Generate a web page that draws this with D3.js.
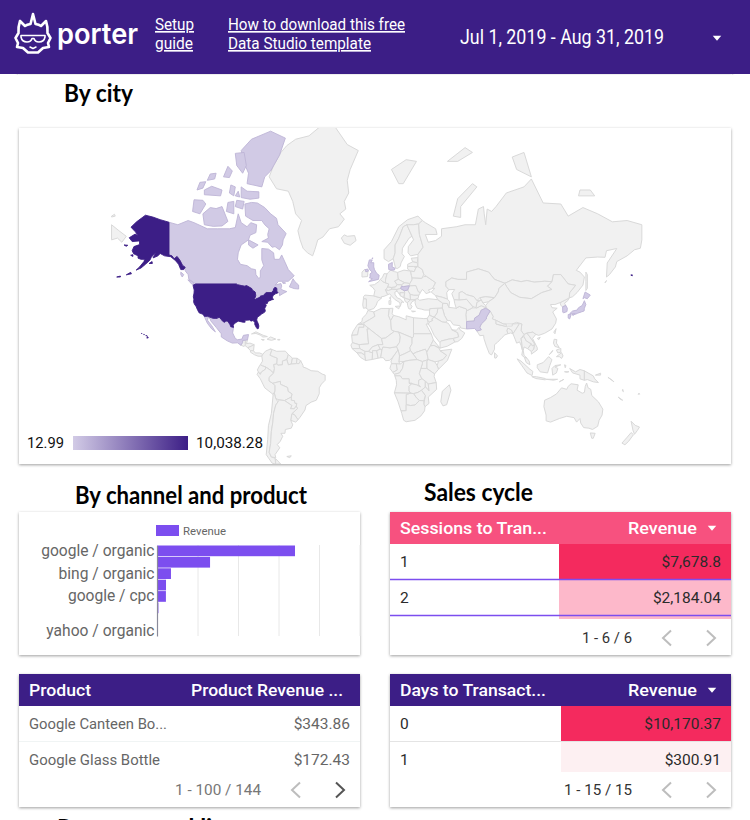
<!DOCTYPE html>
<html>
<head>
<meta charset="utf-8">
<script src="https://cdn.jsdelivr.net/npm/d3@7"></script>
<style>
  body { margin: 0; background: #fff; overflow: hidden; }
  svg { display: block; }
  text { font-family: Roboto, sans-serif; }
</style>
</head>
<body>
<div id="page"></div>
<script>
// ---- revenue by country (map) ----
const countryNames = ['United States', 'Canada', 'Mexico', 'United Kingdom', 'Denmark', 'Hungary', 'Pakistan', 'Japan', 'South Korea'];
const countryRevenue = [10038.28, 86, 42, 65, 14, 12.99, 38, 55, 21];
const legendMin = 12.99;
const legendMax = 10038.28;

// lon/lat outlines of the countries that have revenue
const unitedStates = [
  [[-124.7,48.4],[-123,49],[-95.2,49],[-94.6,48.7],[-92,48.3],[-89.5,48],[-88.4,48.3],[-84.8,46.9],[-84.5,46.4],[-83.5,45.8],[-82.5,45.3],[-82.1,43.6],[-82.5,42.6],[-83.1,42.1],[-82.5,41.7],[-79,42.8],[-79,43.3],[-76.8,43.6],[-76.3,44.2],[-75,45],[-71.5,45],[-70.3,45.9],[-70,46.7],[-69.2,47.45],[-68.3,47.3],[-67.8,47],[-67.8,45.7],[-67,44.9],[-68.8,44.4],[-70.2,43.7],[-70.8,42.8],[-70.6,41.9],[-69.95,41.7],[-71.4,41.4],[-73.9,40.6],[-74.2,39.6],[-75.5,39.4],[-75,38.4],[-76,37],[-75.6,35.3],[-76.5,34.6],[-78,33.9],[-79.3,33],[-81,32],[-81.4,30.7],[-81.3,29.8],[-80.5,28.4],[-80,26.8],[-80.3,25.3],[-81.1,25.1],[-81.8,26],[-82.8,27.8],[-82.7,28.8],[-83.7,29.9],[-84.5,30],[-85.3,29.7],[-86.3,30.4],[-88,30.3],[-89.6,30.2],[-89.3,29.1],[-90.8,29.1],[-93.8,29.7],[-94.8,29.3],[-96.5,28.3],[-97.4,27.3],[-97.2,25.95],[-99.1,26.4],[-99.5,27.5],[-100.7,29.1],[-101.4,29.8],[-102.7,29.7],[-103.2,29],[-104.5,29.6],[-106.5,31.75],[-108.2,31.78],[-108.2,31.33],[-111,31.33],[-114.8,32.5],[-117.1,32.5],[-117.3,33],[-118.4,33.8],[-120.6,34.5],[-121.9,36.6],[-122.5,37.8],[-123.8,39.3],[-124.3,40.4],[-124.1,41.8],[-124.5,42.9],[-124,44.8],[-123.9,46.2]],
  [[-141,69.6],[-141,60.3],[-139,60],[-137.5,59],[-135.5,59.8],[-133.5,58.4],[-131.8,56.6],[-130,55.9],[-131,55],[-133,55],[-134.5,57],[-136.5,58.3],[-139.8,59.7],[-144,60],[-147,60.8],[-148.5,60],[-151.8,59.3],[-150,61.2],[-153,59.5],[-154,58.5],[-157,57],[-160,55.6],[-163.3,54.8],[-161,56],[-158,58],[-157.5,58.8],[-160,58.8],[-162,59.2],[-162,60],[-165,60.7],[-166,61.7],[-164.8,63],[-161,63.6],[-161,64.7],[-166,64.5],[-168,65.6],[-164,66.6],[-162,66.2],[-163.8,67.2],[-166.8,68.4],[-163,69.7],[-157,71.2],[-152,70.8],[-147,70.2]],
  [[-154.5,57.3],[-152.5,58],[-152.3,57.3]],
  [[-167,60.2],[-165.5,60.4],[-165.5,59.8]],
  [[-171.5,63.5],[-169,63.4],[-170,63.1]],
  [[-170,52.9],[-167,53.9],[-166.5,53.3]],
  [[-176.5,52],[-174,52.4],[-174,52]],
  [[172.5,52.8],[173.5,52.9],[173.5,52.5]],
  [[-156,19.2],[-155,19.6],[-155.7,20.2]],
  [[-156.7,20.9],[-156,20.8],[-156.3,20.5]],
  [[-158.2,21.6],[-157.7,21.5],[-158,21.3]],
  [[-159.7,22.2],[-159.3,22.1],[-159.5,21.9]]
];
const canada = [
  [[-141,69.6],[-135,69],[-128,70],[-124,69.5],[-115,68],[-108,68],[-100,68],[-96,68.3],[-94,71.5],[-92,69.5],[-88,68.5],[-85.5,69.5],[-81.5,69],[-82,67],[-86,66.3],[-87,65],[-92,63.5],[-94,61],[-94.5,58.8],[-92.5,57],[-88,56.5],[-85,55.3],[-82.3,55],[-82,53],[-80,51.3],[-79,52],[-79,54.5],[-76.7,56.5],[-78,58.6],[-78,62.4],[-73.5,62.2],[-70,61],[-69.5,58.8],[-66,58.8],[-64.5,60.3],[-62,57.5],[-60,55],[-56,52.5],[-60,50.2],[-66.5,50.2],[-69,48.5],[-65,49.2],[-64.5,48],[-65,47],[-64,46.2],[-61,45.5],[-63.5,44.6],[-66,43.5],[-66,45],[-67,44.9],[-67.8,45.7],[-67.8,47],[-68.3,47.3],[-69.2,47.45],[-70,46.7],[-70.3,45.9],[-71.5,45],[-75,45],[-76.3,44.2],[-76.8,43.6],[-79,43.3],[-79,42.8],[-82.5,41.7],[-83.1,42.1],[-82.5,42.6],[-82.1,43.6],[-82.5,45.3],[-83.5,45.8],[-84.5,46.4],[-84.8,46.9],[-88.4,48.3],[-89.5,48],[-92,48.3],[-94.6,48.7],[-95.2,49],[-123,49],[-125,50],[-127.5,51],[-128,53],[-130,54.5],[-130,55.9],[-131.8,56.6],[-133.5,58.4],[-135.5,59.8],[-137.5,59],[-139,60],[-141,60.3]],
  [[-123.5,48.4],[-125.5,48.9],[-128.2,50.8],[-125,50]],
  [[-132,52],[-131,53],[-133,54],[-133,53]],
  [[-59.3,47.7],[-56,46.9],[-53,46.7],[-53,48.5],[-55.5,50],[-56.8,51.3],[-58,49.5]],
  [[-61.5,66.7],[-63.5,65],[-64,63.5],[-66,62],[-69,63],[-71,62.8],[-74,64.3],[-78,64.5],[-73.5,65.5],[-74,66.5],[-73,68],[-76,69],[-78,70],[-84,70],[-89,71],[-89.5,73.5],[-85,73.8],[-81,73.7],[-76,72.8],[-72,71.5],[-68,70.5],[-67,69],[-62,67]],
  [[-117,69],[-111,68.6],[-105,68.7],[-101,69.8],[-105,73],[-109,72.6],[-113,72.8],[-118,71.5]],
  [[-125,72],[-120,71.5],[-116,73.5],[-118,74.2],[-124,74.3]],
  [[-62,82.4],[-72,83],[-85,82.3],[-92,81.2],[-90,79.8],[-87,78.5],[-88,77],[-78,76.5],[-76,78],[-72,78.8],[-66,80.7]],
  [[-92,74.7],[-86,74.4],[-80,74.6],[-80,75.7],[-88,75.8],[-92,76.5]],
  [[-96,80.9],[-90,81],[-88.5,79.5],[-91,78.5],[-95,79.5]],
  [[-117,75.2],[-106,75],[-105,76],[-112,76.6],[-117,76]],
  [[-122,76],[-118,76.3],[-116,77.3],[-120,77.2]],
  [[-115,77.5],[-110,77.7],[-109,78.5],[-113,78.4]],
  [[-104,78],[-100,77.9],[-98,78.8],[-101,79.4]],
  [[-100,75.5],[-97,75],[-96,76.5],[-99,76.8]],
  [[-96,75],[-93,74.8],[-94,75.8]],
  [[-96,73],[-91,72.5],[-90,74],[-95,74.2]],
  [[-102,72],[-97,71.5],[-97,74],[-101,73.8]],
  [[-87,65],[-80.5,63.5],[-84,62.5],[-87,63.5]],
  [[-64,49.9],[-61.8,49.4],[-63.5,49.2]]
];
const mexico = [
  [[-117.1,32.5],[-114.8,32.5],[-111,31.33],[-108.2,31.33],[-108.2,31.78],[-106.5,31.75],[-104.5,29.6],[-103.2,29],[-102.7,29.7],[-101.4,29.8],[-100.7,29.1],[-99.5,27.5],[-99.1,26.4],[-97.2,25.95],[-97.8,22.5],[-96,19],[-94.5,18.2],[-91.5,18.6],[-90.5,21],[-87,21.5],[-87.7,18.2],[-89.1,17.9],[-91,17.8],[-91,16.5],[-92.2,14.6],[-94.5,16.2],[-98,16],[-101.5,17.5],[-105.5,20],[-105.5,22],[-109,26],[-112.8,30],[-113,31.2],[-114.8,31.8],[-114.7,30],[-112,27],[-109.5,23.2],[-112,25],[-115,28.5]]
];
const unitedKingdom = [
  [[-5.5,50],[1.2,51],[1.7,52.7],[0,53.5],[-1.5,55],[-2,56],[-2,57.6],[-4,57.6],[-3,58.6],[-5,58.6],[-6,56.5],[-4.8,55],[-3,54],[-4.5,53.3],[-4.5,52],[-5,51.7],[-3,51.3]],
  [[-7.8,55],[-6,55.2],[-5.6,54.4],[-7.5,54.2]],
  [[-3.2,59.2],[-2.6,59.3],[-2.9,58.9]]
];
const denmark = [[[8.2,55],[8,57],[10.6,57.7],[10.5,56],[12.5,55.5],[12,54.8],[9.5,54.8]]];
const hungary = [[[16.2,46.9],[17,48],[18,47.8],[22.2,48.2],[21,46.2],[18.8,45.9]]];
const pakistan = [[[61,25],[61,29.5],[66.2,29.8],[66.5,31.5],[69.5,33.1],[71,36],[74,37],[77,35.5],[74.5,32],[74.5,31],[71,28],[70,26],[71,24.5],[68,23.7],[66.5,25.3]]];
const japan = [
  [[131,34],[133,35.5],[136,36],[137,37.3],[139.5,38.5],[141,41],[142,39],[141,37],[140.8,35.5],[139,35],[136.5,34.3],[135,33.7],[132.5,34]],
  [[140,42],[141.5,45.3],[145,43.8],[143,42],[141,42.5]],
  [[130,33.5],[132,33.5],[131,31],[130,31.5]],
  [[132.5,33.5],[134.7,34],[133.5,33]]
];
const southKorea = [[[126.2,37.8],[128.4,38.5],[129.4,37],[129.2,35.2],[127,34.5],[126.3,34.8]]];
const countryRings = [unitedStates, canada, mexico, unitedKingdom, denmark, hungary, pakistan, japan, southKorea];

// lon/lat outlines of the rest of the world, no revenue
const restOfAmericas = [
  [[-92.2,14.6],[-91,16.5],[-91,17.8],[-89.1,17.9],[-89.2,15.9],[-88.3,15.7],[-90,13.8]],
  [[-89.1,17.9],[-87.7,18.2],[-88.3,15.9],[-89.2,15.9]],
  [[-89.2,15.9],[-88.3,15.7],[-86,16],[-83.2,15],[-85,14],[-87.5,13],[-89.3,14.3]],
  [[-83.2,15],[-83.6,11],[-85.7,11],[-87.5,13],[-85,14]],
  [[-83.6,11],[-82.5,9.5],[-79.5,9.5],[-77.3,8.6],[-78,7.3],[-80.5,7.3],[-83,8.3],[-85.7,10],[-85.7,11]],
  [[-85,21.9],[-82,23.2],[-77,21],[-74.2,20.2],[-77.5,19.9],[-78.5,21],[-82,22.2]],
  [[-74.4,18.5],[-72,20],[-68.5,18.6],[-71.5,17.8]],
  [[-78.3,18.4],[-76.3,18.2],[-77.2,17.8]],
  [[-67.2,18.4],[-65.7,18.4],[-65.7,18],[-67.2,18]],
  [[-77.3,8.6],[-75.5,10.7],[-72,12.2],[-71.3,11],[-72.4,8],[-70,7],[-67.5,6],[-67.8,2],[-69.9,1.7],[-69.4,-1],[-70,-4.2],[-72,-2.3],[-75.3,0],[-77.7,0.8],[-79,1.6],[-77.5,4],[-78,7.3]],
  [[-72,12.2],[-68,10.6],[-62,10.7],[-60,8.5],[-61,5],[-64,4],[-64,1.5],[-67,1.2],[-67.8,2],[-67.5,6],[-70,7],[-72.4,8],[-71.3,11]],
  [[-60,8.5],[-57.2,6],[-58,2],[-60,1.5],[-61,5]],
  [[-57.2,6],[-54,5.9],[-54.5,2.3],[-58,2]],
  [[-54,5.9],[-51.6,4.2],[-52.7,2.3],[-54.5,2.3]],
  [[-79,1.6],[-77.7,0.8],[-75.3,0],[-75.5,-1.5],[-78.3,-3.4],[-79,-5],[-80.3,-3.4],[-81,-2],[-80,0]],
  [[-80.3,-3.4],[-79,-5],[-78.3,-3.4],[-75.5,-1.5],[-75.3,0],[-72,-2.3],[-70,-4.2],[-73,-7],[-73,-9.5],[-70.5,-11],[-69,-12.5],[-69,-16],[-70.3,-18.3],[-76,-14],[-79,-8],[-81.2,-5]],
  [[-61,5],[-60,1.5],[-58,2],[-54.5,2.3],[-52.7,2.3],[-51.6,4.2],[-50,1],[-50,0],[-48,-0.7],[-44.5,-2.5],[-40,-2.9],[-37,-4.8],[-35,-5.5],[-35,-9],[-37.5,-11.5],[-39,-14],[-39,-17.8],[-41,-22],[-44.5,-23.2],[-48,-25.3],[-48.7,-28],[-52,-32.2],[-53.4,-33.7],[-55.8,-30.8],[-57.6,-30.2],[-53.8,-27.2],[-54.6,-25.6],[-54.3,-24],[-55.5,-24],[-55.9,-22.3],[-58,-22],[-58,-20],[-57.5,-18],[-60.2,-16.3],[-60.5,-13.8],[-65.3,-11.7],[-65.4,-9.7],[-70.5,-11],[-73,-9.5],[-73,-7],[-70,-4.2],[-69.4,-1],[-69.9,1.7],[-67.8,2],[-67,1.2],[-64,1.5],[-64,4]],
  [[-69,-12.5],[-70.5,-11],[-65.4,-9.7],[-65.3,-11.7],[-60.5,-13.8],[-60.2,-16.3],[-57.5,-18],[-58,-20],[-62.6,-22.2],[-66.2,-21.8],[-68.5,-21],[-69.5,-17.5],[-69,-16]],
  [[-58,-20],[-58,-22],[-55.9,-22.3],[-55.5,-24],[-54.3,-24],[-54.6,-25.6],[-56,-27.3],[-58.6,-27.2],[-57.6,-25.3],[-62.6,-22.2]],
  [[-57.6,-30.2],[-55.8,-30.8],[-53.4,-33.7],[-55,-35],[-58.4,-34]],
  [[-70.3,-18.3],[-69.5,-17.5],[-68.5,-21],[-67,-23],[-68.5,-25],[-70,-30],[-70.5,-35],[-71.5,-40],[-72,-46],[-73,-50],[-71.5,-52],[-69,-52.5],[-68.6,-54.9],[-71,-54.5],[-75,-51],[-74,-44],[-73.5,-37],[-71.5,-30]],
  [[-66.2,-21.8],[-62.6,-22.2],[-57.6,-25.3],[-58.6,-27.2],[-56,-27.3],[-54.6,-25.6],[-53.8,-27.2],[-57.6,-30.2],[-58.4,-34],[-57,-36.5],[-58,-38.3],[-62,-39],[-62.3,-41],[-65,-41],[-63.8,-42.5],[-65.5,-45],[-67.5,-46.5],[-65.8,-48],[-69,-51],[-68.5,-52.3],[-71.5,-52],[-73,-50],[-72,-46],[-71.5,-40],[-70.5,-35],[-70,-30],[-68.5,-25],[-67,-23]],
  [[-68.6,-52.7],[-65.2,-54.8],[-68.6,-54.9]],
  [[-61,-51.8],[-58,-51.5],[-59,-52.3]],
  [[-73,78],[-68,76.2],[-60,75.8],[-57,74],[-55,71.5],[-51,70],[-53.5,67.5],[-52,65],[-50,62.5],[-47,61],[-43.5,60],[-42,62],[-40,65],[-36.5,65.8],[-32,68],[-26,68.5],[-22,70.3],[-25,71.5],[-21,72.5],[-22,74],[-19,75.5],[-20,77.5],[-18,79],[-12.5,81.2],[-20,81.8],[-28,83.3],[-37,83.5],[-46,82.6],[-55,82.3],[-61,81.7],[-65,81],[-70,79.5]]
];
const restOfEurope = [
  [[-24,65.5],[-22,64],[-18,63.4],[-14,64.8],[-15,66.2],[-20,66],[-22,66.4]],
  [[-10,52],[-6.2,52.2],[-6,54],[-7.5,54.2],[-5.6,54.4],[-7.8,55],[-8,55.2],[-10,54]],
  [[-9,43],[-8,43.8],[-2,43.4],[3.2,42.3],[0.5,40.5],[-0.3,38.7],[-2,36.8],[-5.4,36],[-7.4,37.2],[-7,38],[-7,41.8],[-9,42]],
  [[-9,42],[-7,41.8],[-7,38],[-7.4,37.2],[-9,37],[-9.5,38.8]],
  [[-4.7,48.4],[-1.5,48.7],[1.5,50.1],[2.5,51],[4.2,50],[6,49.5],[8.2,49],[7.5,47.6],[6,46.3],[7.5,44],[5,43.2],[3.2,43],[3.2,42.3],[-2,43.4],[-1.2,46],[-2.5,47.3]],
  [[2.5,51],[4,52],[5,53.4],[7,53.3],[6,50.8],[6,49.5],[4.2,50]],
  [[7,53.3],[8.2,54],[9.5,54.8],[12,54.2],[14.2,53.9],[14.7,51],[12.2,50.3],[13.8,48.7],[12.8,47.6],[10,47.4],[7.5,47.6],[8.2,49],[6,49.5],[6,50.8]],
  [[6,46.3],[7.5,47.6],[10,47.4],[10.4,46.6],[8,46]],
  [[10,47.4],[12.8,47.6],[13.8,48.7],[17,48.7],[16.2,46.9],[13.7,46.5],[10.4,46.6]],
  [[7.5,44],[6,46.3],[8,46],[10.4,46.6],[13.7,46.5],[13.7,45.7],[12.3,45.2],[12.5,44],[14,42.4],[16,41.8],[18.4,40.1],[17,40.4],[16.6,39.5],[16,38],[15.7,40],[12.5,41.5],[10.5,43],[8.8,44.4]],
  [[12.5,38],[15.6,38.2],[15,36.7]],
  [[8.3,41],[9.7,41],[9.5,39],[8.4,39]],
  [[8.7,42.5],[9.5,43],[9.4,41.5]],
  [[14.2,53.9],[18.5,54.8],[23,54.4],[23.6,52.6],[24,51.6],[24,50.8],[22.5,49.2],[19,49.5],[14.7,51]],
  [[12.2,50.3],[14.7,51],[19,49.5],[17,48.7],[13.8,48.7]],
  [[17,48.7],[19,49.5],[22.5,49.2],[22.2,48.2],[18,47.8],[17,48]],
  [[21,46.2],[22.2,48.2],[26.6,48.3],[28.2,45.5],[29.6,45],[28.6,43.7],[25,43.7],[22.6,44.2]],
  [[22.6,44.2],[25,43.7],[28.6,43.7],[28,42],[26,41.4],[22.9,41.4]],
  [[13.7,45.7],[13.7,46.5],[16.2,46.9],[18.8,45.9],[19,44.9],[15.8,45],[16,43.5],[18.5,42.5],[15,44.5],[14.5,45.2]],
  [[15.8,45],[19,44.9],[18.5,42.5],[16,43.5]],
  [[18.8,45.9],[21,46.2],[22.6,44.2],[22.9,41.4],[20.5,41.9],[18.5,42.5],[19,44.9]],
  [[18.5,42.5],[20.5,41.9],[22.9,41.4],[20.8,40],[19.4,40.5]],
  [[20.8,40],[22.9,41.4],[26,41.4],[23.7,40.2],[23,39],[24,38],[23,36.5],[21.7,36.8],[21,38.5]],
  [[23.6,35.5],[26.3,35.3],[24.5,35]],
  [[5,59],[5,62],[10,64.5],[15,68.5],[21,70.2],[28,71],[31,70],[28.5,69.2],[25,69],[20.5,69],[18,68.5],[15,65.5],[12.5,63.5],[12.5,61],[11.2,59],[8,58]],
  [[11.2,59],[12.5,61],[12.5,63.5],[15,65.5],[18,68.5],[20.5,69],[24,66],[22,65.5],[17.5,62.5],[17.2,60.7],[18.8,59.8],[16.5,57.5],[16,56.2],[14,55.4],[12.8,55.6]],
  [[20.5,69],[25,69],[28.5,69.2],[29,66.5],[31.5,62.8],[28,60.5],[23,60],[21.3,61],[21.5,63],[25,65],[24,66]],
  [[23.5,59.2],[28,59.4],[27.5,57.6],[24.4,57.9]],
  [[21,56.2],[21,57],[24.4,57.9],[27.5,57.6],[28,56.2],[25,56.2]],
  [[21,55.2],[21,56.2],[25,56.2],[26.6,55.7],[25.5,54.2],[23,54.4]],
  [[23,54.4],[25.5,54.2],[26.6,55.7],[28,56.2],[31,55],[32,53],[30.5,51.4],[24,51.6],[23.6,52.6]],
  [[22.2,48.2],[22.5,49.2],[24,50.8],[24,51.6],[30.5,51.4],[32,52.2],[34,52.2],[40,49.6],[38,47],[35,46.2],[36.5,45.3],[33.5,44.5],[32.5,45.5],[31,46.5],[29.6,45],[28.2,45.5],[26.6,48.3]],
  [[10,79],[20,80.2],[27,80],[18,77],[15,77]]
];
const restOfAsia = [
  [[28,59.4],[28,56.2],[31,55],[32,53],[34,52.2],[40,49.6],[38,47],[39.5,47],[37,45.3],[40,43.5],[44.5,42.7],[48,41.8],[47.5,45],[49,46.4],[47,48],[47,50],[51,51.6],[55,51],[61,51],[61,54],[69,55.3],[76,54],[80,51],[87,49.3],[92,50.8],[98,50],[102,50.5],[107,49.8],[114,50.2],[119,50],[120,53],[125,53],[130,49],[135,48.4],[131,45],[130.7,42.4],[133,43],[136,45],[140,48.5],[141,52],[138,54],[135.5,54.7],[142,59.3],[150,59.6],[155,59.5],[156,61.7],[163,62.4],[156.5,57.5],[156,52],[158,53],[162,56],[163,58],[170,60],[175,62],[179,62.5],[180,65],[180,69],[170,70],[160,69.7],[150,71.5],[140,72.8],[130,71],[125,73.5],[113,73.7],[105,77.7],[100,76.5],[88,75.5],[81,73],[78,72],[75,72.5],[74,69],[73,71.5],[72.5,73],[69,72.5],[67,69],[60,69],[54,68.5],[44,68],[44,66],[40,64.8],[35,64.3],[33,66.5],[41,66.5],[40,68],[33,69.5],[31,70],[28.5,69.2],[29,66.5],[31.5,62.8],[28,60.5]],
  [[-180,65],[-176,65.5],[-173,64.3],[-170,66],[-175,67.5],[-180,69]],
  [[-180,71],[-178,71.4],[-177.5,71],[-180,70.8]],
  [[52,71],[57,70.7],[57,73],[68,76.5],[65,77],[55,74.5]],
  [[48,80],[60,81.5],[65,81],[55,80]],
  [[95,79],[105,78],[100,81],[92,80.5]],
  [[137,75],[148,75],[145,76],[138,76]],
  [[142,54],[143,53],[143,47],[142,46],[142,50]],
  [[156,50.5],[155.5,50],[155,49.5]],
  [[124.5,40],[128.4,41.5],[130.7,42.4],[129.7,41],[127.5,39.7],[128.4,38.5],[126.2,37.8],[125,38.5]],
  [[61,29.5],[60.5,33.5],[61,35.6],[65,37.2],[68,37.2],[71,38.4],[74.5,37.2],[71,36],[69.5,33.1],[66.5,31.5],[66.2,29.8]],
  [[44.8,39.7],[48,39.5],[49,37.5],[54,37],[56,38],[61,36.6],[61,35.6],[60.5,33.5],[61,29.5],[61,25],[57,25.6],[56.5,27],[52,27.5],[50,30],[48,30],[46,33],[45,36],[44.5,37.2]],
  [[44.5,37.2],[45,36],[46,33],[48,30],[46.5,29],[44.5,29.2],[39,32],[41,34.5],[41.5,37]],
  [[36,36.8],[41.5,37],[41,34.5],[39,32],[36,33],[35.8,35]],
  [[35,29.5],[34.3,31.3],[35.8,33.3],[36,33],[39,32],[37.5,31],[38,30],[36,29.3]],
  [[35,28],[36,29.3],[38,30],[37.5,31],[39,32],[44.5,29.2],[46.5,29],[48.5,28.5],[50,26.5],[51,24.5],[55,22.7],[55.7,20],[52,19],[49,18.6],[44,17.4],[43,16.5],[42.7,16.5],[39,21],[36.5,26]],
  [[43,12.7],[43,16.5],[44,17.4],[49,18.6],[52,19],[53,16.7],[48,14]],
  [[51,24.5],[54,24.2],[56,26],[56.5,24.5],[59.8,22.5],[57.7,19],[55,17],[53,16.7],[52,19],[55.7,20],[55,22.7]],
  [[26,40],[26.3,41.8],[28,42],[29,41.2],[35,42],[41.5,41.5],[44.8,39.7],[44.5,37.2],[36,36.8],[36,36],[32.5,36],[30.5,36.5],[27.5,37],[26.5,38.5]],
  [[40,43.5],[44.5,42.7],[48,41.8],[49.5,40.5],[49,37.5],[48,39.5],[44.8,39.7],[41.5,41.5]],
  [[47,48],[47,50],[51,51.6],[55,51],[61,51],[61,54],[69,55.3],[76,54],[80,51],[87,49.3],[83,47],[82.5,45.3],[80,42.5],[74,43],[70,42.5],[68,41],[66,43],[61,44],[58,45.5],[56,45],[56,41.3],[52.5,41.5],[51,44.5],[53,46.5],[49,46.4]],
  [[56,41.3],[56,45],[58,45.5],[61,44],[66,43],[68,41],[71,41.4],[68,40],[67.5,37.3],[65,38],[61,41.7]],
  [[52.5,41.5],[56,41.3],[61,41.7],[65,38],[65,37.2],[61,35.6],[61,36.6],[56,38],[54,37],[53,39.5]],
  [[71,41.4],[70,42.5],[74,43],[80,42.5],[76,40.5],[72,39.8]],
  [[68,40],[71,41.4],[72,39.8],[74,38.5],[74.5,37.2],[71,38.4],[68,37.2],[67.5,37.3]],
  [[87,49.3],[92,50.8],[98,50],[102,50.5],[107,49.8],[114,50.2],[119,50],[116,48],[119,46.5],[112,45],[105,42],[97,42.7],[91,45],[88,48]],
  [[74,38.5],[76,40.5],[80,42.5],[82.5,45.3],[83,47],[87,49.3],[88,48],[91,45],[97,42.7],[105,42],[112,45],[119,46.5],[116,48],[119,50],[120,53],[125,53],[130,49],[135,48.4],[131,45],[130.7,42.4],[128.4,41.5],[124.5,40],[121,39],[118,39],[119,37.3],[122.5,37],[119.5,35],[122,31],[121.5,28.5],[119,25],[114,22.3],[110,21],[108,21.6],[106,23],[102,22.4],[100,21.5],[98,24],[98.5,28],[95,29],[92,28],[89,28],[86,28],[81,30.2],[78.5,31],[79,32.5],[77,35.5],[74.5,37.2]],
  [[109,19],[111,19.8],[110,18.2]],
  [[120.2,23],[121.8,25.2],[121,22]],
  [[68,23.7],[71,24.5],[70,26],[71,28],[74.5,31],[74.5,32],[77,35.5],[79,32.5],[78.5,31],[81,30.2],[81,28],[88,26.5],[89,26.8],[92,26.8],[92,28],[97,28.3],[94,24],[92.5,22],[91.5,24.3],[89,25.5],[88.5,24],[89,22],[87,21.3],[85,19.5],[82,16.5],[80,15],[80,12],[78,8.2],[76.5,9],[74.5,14],[72.8,19],[72.6,21],[70,20.8],[69,22.3]],
  [[81,30.2],[86,28],[88,27.8],[88,26.5],[81,28]],
  [[88.5,24],[89,25.5],[91.5,24.3],[92.5,22],[91,22.5],[89,22]],
  [[80,9.7],[82,7.5],[81,6],[80,6.2]],
  [[92.5,22],[94,24],[97,28.3],[98.5,28],[98,24],[100,21.5],[98,19],[98.5,16],[99,11],[98,14.5],[97,16.8],[95,16],[94,18.5]],
  [[98,19],[100,20.3],[101.5,17.5],[105,15.5],[102.5,12.3],[100,13.5],[99.5,11],[100,8],[102,6],[100.3,6.5],[98.5,8],[99,11],[98.5,16]],
  [[100,21.5],[102,22.4],[104,20],[107,16],[107,14.5],[105.5,14.2],[105,15.5],[101.5,17.5],[100,20.3]],
  [[102,22.4],[106,23],[108,21.6],[105.8,19],[109,13],[109,11.5],[105,8.7],[105,10.5],[106.5,12],[107,14.5],[107,16],[104,20]],
  [[102.5,12.3],[105,15.5],[105.5,14.2],[107,14.5],[106.5,12],[105,10.5]],
  [[100.3,6.5],[102,6],[103.5,4],[104,1.5],[101.5,3]],
  [[95.3,5.5],[98,4],[104,-1.5],[106,-3],[105.5,-5.8],[102,-4],[98.5,1]],
  [[105.3,-6.5],[108.5,-6.6],[114.5,-7.8],[114.5,-8.7],[108,-7.8]],
  [[109,1.5],[113,3],[116.7,7],[119,5],[117.5,1],[116,-4],[111,-3.3],[109,-0.5]],
  [[119.5,-5.5],[119,-1],[121,1],[125,1.5],[121,0],[123,-1],[122,-4]],
  [[131,-1],[135,-3.3],[138,-1.7],[141,-2.6],[141,-9],[138,-8],[138,-5.5],[133,-4]],
  [[141,-2.6],[147,-6],[148,-8],[150.5,-10.5],[147,-10],[143,-8.5],[141,-9]],
  [[148.5,-5.5],[152,-4.2],[152,-5.5]],
  [[124,-10],[127,-8.4],[125,-9.4]],
  [[115,-8.3],[119,-8.3],[122.8,-8.3],[120,-8.9]],
  [[127.5,1.5],[128.5,1],[128,-0.5]],
  [[127.5,-3.2],[130.5,-3.2],[129,-3.6]],
  [[120.5,18.5],[122.3,18.3],[122,16],[124,13],[121,13.8],[120,16]],
  [[122,7],[125.5,9.7],[126.5,7.5],[125.5,5.8],[124,7]],
  [[122,11.5],[125,12.5],[125,10],[123,9.5]],
  [[117.2,8.4],[119.5,11.2],[119,10]]
];
const oceania = [
  [[114,-22],[113.5,-26],[115,-31],[115,-34.3],[118,-35],[124,-33],[129,-31.7],[134,-32.5],[135.7,-35],[138,-33],[138.5,-35.5],[140.5,-38],[144,-38.3],[146.5,-39],[150,-37.3],[151,-34],[153,-31],[153.5,-27.5],[150.5,-23],[146,-19],[145.3,-15],[143.5,-14],[142.5,-10.8],[141.6,-13],[141,-17],[139.5,-17.5],[136,-15.5],[136.8,-12],[132,-11.3],[130,-13],[129,-15],[125.5,-14],[122,-18],[118,-20.3]],
  [[145,-40.8],[148.3,-41],[147,-43.5],[146,-43.5]],
  [[172.7,-34.5],[175.5,-36.8],[178.4,-37.7],[177,-39.5],[175,-41.5],[174,-39.5]],
  [[172.7,-40.6],[174.3,-41.7],[171,-45],[168.5,-46.6],[166.5,-45.8],[170,-43]],
  [[157,-7],[160,-9],[161,-10]],
  [[164,-20],[167,-22],[165.5,-21.5]],
  [[178,-17.5],[178.6,-18.1],[177.5,-18.2]],
  [[167,-15],[167.5,-16.5],[166.8,-16]]
];
const africa = [
  [[-6,35.8],[-2,35],[-1.2,32.5],[-5,30.5],[-8.7,28.7],[-13,27.7],[-10,29.5],[-9.7,31.5],[-7,33.7]],
  [[-13,27.7],[-8.7,27.7],[-8.7,26],[-12,26],[-13,21.3],[-17,21],[-16,23.5]],
  [[-2,35],[3,36.9],[8.6,36.9],[8,33],[9.5,30],[10,24.5],[12,23.5],[6,19.3],[3.3,19],[-5,25],[-8.7,27.7],[-8.7,28.7],[-5,30.5],[-1.2,32.5]],
  [[8.6,36.9],[11,37],[10.5,34],[11.5,33],[9.5,30],[8,33]],
  [[11.5,33],[15,32.3],[20,30.5],[20,32.8],[25,31.7],[25,20],[24,19.5],[15,23],[12,23.5],[10,24.5],[9.5,30]],
  [[25,31.7],[32,31.2],[34.3,31.3],[35,28],[33.5,28],[37,22],[25,22]],
  [[-17,21],[-13,21.3],[-12,26],[-8.7,26],[-8.7,27.7],[-5,25],[-6.5,25],[-5.5,15.5],[-12,15],[-16.5,16.3]],
  [[-12,15],[-5.5,15.5],[-6.5,25],[-5,25],[3.3,19],[4.2,15],[1,15],[-3,13.5],[-5.5,10.5],[-8,10.5],[-11.5,12.4]],
  [[-16.5,16.3],[-12,15],[-11.5,12.4],[-16.7,12.4],[-17.5,14.7]],
  [[-16.7,12.4],[-11.5,12.4],[-8,10.5],[-8,8],[-10.5,9.5],[-13.3,9.5]],
  [[-13.3,9.5],[-10.5,9.5],[-8,8],[-7.5,4.4],[-11,6.5]],
  [[-8,10.5],[-5.5,10.5],[-2.8,9.5],[-3,5.1],[-7.5,4.4],[-8,8]],
  [[-5.5,10.5],[-3,13.5],[1,15],[2.4,12],[0,11],[-2.8,11],[-2.8,9.5]],
  [[-2.8,9.5],[-2.8,11],[0,11],[1,6],[-3,5.1]],
  [[0,11],[2.4,12],[3.6,11.7],[2.7,6.3],[1,6]],
  [[2.7,6.3],[3.6,11.7],[4.2,13.5],[9,12.9],[13.5,13.7],[14.5,11.5],[11,6.7],[8.7,4.5],[6,4.3],[4.5,6.3]],
  [[1,15],[4.2,15],[3.3,19],[6,19.3],[12,23.5],[15,23],[16,20],[15.5,16.5],[13.5,13.7],[9,12.9],[4.2,13.5],[3.6,11.7],[2.4,12]],
  [[15,23],[24,19.5],[24,15.7],[22.5,13],[23,11],[19,9],[15.5,7.5],[14.5,11.5],[13.5,13.7],[15.5,16.5],[16,20]],
  [[24,19.5],[25,20],[25,22],[37,22],[38.5,18],[36.5,14.3],[34,10],[33,12],[27,10],[24,8.5],[23,11],[22.5,13],[24,15.7]],
  [[23,11],[24,8.5],[27,10],[33,12],[34,10],[35,5],[31,3.7],[27.5,5]],
  [[36.5,14.3],[39,14.5],[42.5,12.5],[43,11],[47.5,8],[45,5],[42,4],[39.5,3.5],[35,5],[34,10]],
  [[36.5,14.3],[38.5,18],[43,12.7],[39,14.5]],
  [[43,11],[51,12],[48,4.5],[42,-1.5],[41,1],[42,4],[45,5],[47.5,8]],
  [[35,5],[39.5,3.5],[41,1],[42,-1.5],[39.3,-4.7],[34,-1],[34,4]],
  [[31,3.7],[35,5],[34,4],[34,-1],[30,-1],[31,2.3]],
  [[15.5,7.5],[19,9],[23,11],[27.5,5],[22,4.5],[18.5,3.7],[15,3.5]],
  [[11,6.7],[14.5,11.5],[15.5,7.5],[15,3.5],[16,2],[10,2.2],[9.7,4]],
  [[9.5,1],[10,2.2],[13.3,2.2],[14,-2],[11,-3.7],[9,-1]],
  [[13.3,2.2],[16,2],[18.5,3.7],[17.5,-1],[15.5,-4],[12,-5],[11,-3.7],[14,-2]],
  [[18.5,3.7],[22,4.5],[27.5,5],[31,3.7],[31,2.3],[30,-1],[29,-4.5],[30.7,-8],[28.5,-9],[28.5,-12],[29.8,-13.4],[27,-12],[22,-11],[22,-8],[17.5,-8],[16,-6],[12.3,-6],[12,-5],[15.5,-4],[17.5,-1]],
  [[30,-1],[34,-1],[39.3,-4.7],[39,-6.5],[40.4,-10.5],[35,-11.5],[33,-9.5],[30.7,-8],[29,-4.5]],
  [[12.3,-6],[16,-6],[17.5,-8],[22,-8],[22,-11],[24,-11],[22,-13],[22,-16],[23,-17.5],[12,-17.3],[13.5,-12],[13.3,-9]],
  [[22,-11],[27,-12],[29.8,-13.4],[28.5,-12],[28.5,-9],[30.7,-8],[33,-9.5],[33,-13.5],[30.4,-15.6],[28,-17],[25,-17.8],[23,-17.5],[22,-16],[22,-13],[24,-11]],
  [[33,-9.5],[35,-11.5],[35.5,-16],[34.3,-14.5],[33,-13.5]],
  [[40.4,-10.5],[40.7,-15],[35,-20],[35.5,-24],[32.8,-26],[32,-24.5],[33,-19],[30.4,-15.6],[33,-13.5],[34.3,-14.5],[35.5,-16],[35,-11.5]],
  [[25,-17.8],[28,-17],[30.4,-15.6],[33,-19],[32,-22.3],[29,-22.2],[27,-20.5]],
  [[20,-18.3],[23,-17.5],[25,-17.8],[27,-20.5],[29,-22.2],[26,-25],[23,-25.3],[20,-24.8],[20,-22]],
  [[12,-17.3],[23,-17.5],[20,-18.3],[20,-22],[20,-28.4],[16.5,-28.6],[14.5,-23]],
  [[16.5,-28.6],[20,-28.4],[20,-24.8],[23,-25.3],[26,-25],[29,-22.2],[32,-22.3],[32,-24.5],[32.8,-26],[32.5,-28.5],[30,-31.5],[26,-34],[20,-34.8],[18.3,-34],[17,-30]],
  [[49.3,-12],[50.4,-15.5],[47.5,-24.8],[45,-25.5],[43.5,-23],[44,-20],[44.5,-16.3]]
];

// ---- revenue by channel (bars) ----
const channels = ['google / organic', '(direct) / (none)', 'bing / organic', 'baidu / organic', 'google / cpc', 'duckduckgo / organic', 'ask / organic', 'yahoo / organic'];
const channelRevenue = [6815, 2620, 690, 445, 440, 70, 25, 10];
const channelLabels = ['google / organic', 'bing / organic', 'google / cpc', 'yahoo / organic'];
const channelTicks = [2000, 4000, 6000, 8000, 10000];

// ---- tables ----
const sessionRows = ['1', '2'];
const sessionRevenue = [7678.8, 2184.04];
const productRows = ['Google Canteen Bo...', 'Google Glass Bottle'];
const productRevenue = [343.86, 172.43];
const dayRows = ['0', '1'];
const dayRevenue = [10170.37, 300.91];

const purple = '#3c1e86';
const violet = '#7c4eef';
const usd = d3.format('$,.2f');

const svg = d3.select('#page').append('svg').attr('width', 750).attr('height', 820);

const defs = svg.append('defs');
defs.append('filter').attr('id', 'shadow').attr('x', '-5%').attr('y', '-5%').attr('width', '110%').attr('height', '110%')
  .append('feDropShadow').attr('dx', 0).attr('dy', 1).attr('stdDeviation', 1.5).attr('flood-color', '#000').attr('flood-opacity', 0.38);
const gradient = defs.append('linearGradient').attr('id', 'legendRamp');
defs.append('clipPath').attr('id', 'mapClip').append('rect')
  .attr('x', 19).attr('y', 128).attr('width', 712).attr('height', 336);

// small helper, width is forced to what the picture shows
function label(parent, x, y, str, size, color, width, weight, anchor, family) {
  const t = parent.append('text').attr('x', x).attr('y', y).text(str)
    .attr('font-size', size).attr('fill', color)
    .attr('font-weight', weight || 400)
    .attr('text-anchor', anchor || 'start');
  if (family) t.style('font-family', family);
  if (width) t.attr('textLength', width).attr('lengthAdjust', 'spacingAndGlyphs');
  return t;
}

function card(x, y, w, h) {
  svg.append('rect').attr('x', x).attr('y', y).attr('width', w).attr('height', h)
    .attr('fill', '#fff').attr('filter', 'url(#shadow)');
}

// ---- header ----
svg.append('rect').attr('x', 18).attr('y', 68).attr('width', 714).attr('height', 6.5)
  .attr('fill', '#fff').attr('filter', 'url(#shadow)');
svg.append('rect').attr('width', 750).attr('height', 74).attr('fill', purple);

const logo = svg.append('g').attr('fill', 'none').attr('stroke', '#fff').attr('stroke-linejoin', 'round').attr('stroke-linecap', 'round');
logo.append('path').attr('stroke-width', 2.6)
  .attr('d', 'M33 14 L30.5 24 Q27 24.5 25 26 L20 21 Q18 27 18.5 33 L15.5 38 L18 43 L17 47 L23 48 L28 52.5 H38 L43 48 L49 47 L48 43 L50.5 38 L47.5 33 Q48 27 46 21 L41 26 Q39 24.5 35.5 24 Z');
logo.append('path').attr('stroke-width', 1.6)
  .attr('d', 'M21 35.5 H45 V37 Q44 42 39 42 Q35 42 34 38.5 H32 Q31 42 27 42 Q22 42 21 37 Z');
logo.append('path').attr('stroke-width', 1.5).attr('d', 'M30 47 L33 48.5 L36 47');
label(svg, 57, 44, 'porter', 29, '#fff', 81, 600, 'start', 'Inter, sans-serif');

const headerLinks = [['Setup', 155, 30, 39], ['guide', 155, 49, 38], ['How to download this free', 228, 30, 177], ['Data Studio template', 228, 49, 143]];
headerLinks.forEach(d => {
  label(svg, d[1], d[2], d[0], 16.5, '#fff', d[3]).style('text-decoration', 'underline');
});
label(svg, 460, 44, 'Jul 1, 2019 - Aug 31, 2019', 19.5, '#fff', 204);

function caret(x, y, color) {
  svg.append('path').attr('d', d3.symbol(d3.symbolTriangle, 26))
    .attr('transform', `translate(${x},${y}) rotate(180) scale(1.1,0.75)`)
    .attr('fill', color);
}
caret(717, 37.5, '#fff');

// ---- section titles ----
const lato = 'Lato, sans-serif';
label(svg, 64, 102, 'By city', 24, '#000', 69, 700, 'start', lato);
label(svg, 75, 504, 'By channel and product', 24, '#000', 232, 700, 'start', lato);
label(svg, 424, 501, 'Sales cycle', 24, '#000', 109, 700, 'start', lato);
label(svg, 57, 836.5, 'Revenue and lists', 24, '#000', 0, 700, 'start', lato);

// ---- map ----
card(19, 128, 712, 336);
const projection = d3.geoMercator().scale(84.4).translate([376.7, 367]);
const ringPath = d3.line()
  .x(d => projection(d)[0])
  .y(d => projection(d)[1])
  .curve(d3.curveLinearClosed);
const revenueColor = d3.scaleLinear().domain([legendMin, legendMax]).range(['#d2cbe6', purple]);

const mapG = svg.append('g').attr('clip-path', 'url(#mapClip)');
const greyRings = [...restOfAmericas, ...restOfEurope, ...restOfAsia, ...oceania, ...africa];
mapG.selectAll('path.rest').data(greyRings).enter().append('path')
  .attr('class', 'rest')
  .attr('d', ringPath)
  .attr('fill', '#f1f1f1')
  .attr('stroke', '#d9d9d9')
  .attr('stroke-width', 1);

const litRings = [];
countryRings.forEach((rings, i) => rings.forEach(ring => litRings.push({ring: ring, name: countryNames[i], value: countryRevenue[i]})));
litRings.sort((a, b) => a.value - b.value);
mapG.selectAll('path.lit').data(litRings).enter().append('path')
  .attr('class', 'lit')
  .attr('d', d => ringPath(d.ring))
  .attr('fill', d => revenueColor(d.value))
  .attr('stroke', d => d.value > 5000 ? purple : '#bdb4d6')
  .attr('stroke-width', 0.9);

gradient.selectAll('stop').data([legendMin, legendMax]).enter().append('stop')
  .attr('offset', (d, i) => i * 100 + '%')
  .attr('stop-color', d => revenueColor(d));
svg.append('rect').attr('x', 73).attr('y', 436).attr('width', 115).attr('height', 14).attr('fill', 'url(#legendRamp)');
label(svg, 27, 448, d3.format(',.2f')(legendMin), 15, '#111', 37);
label(svg, 196, 448, d3.format(',.2f')(legendMax), 15, '#111', 67);

// ---- bars ----
card(19, 512, 341, 143);
const xBar = d3.scaleLinear().domain([0, 10000]).range([157, 359.5]);
const yBar = d3.scaleBand().domain(channels).range([545.5, 636]).paddingInner(0.06);

svg.append('g').attr('transform', 'translate(0,636)')
  .call(d3.axisBottom(xBar).tickValues(channelTicks).tickSize(-91).tickFormat(''))
  .call(g => g.select('.domain').remove())
  .call(g => g.selectAll('line').attr('stroke', '#e8e8e8'));

svg.selectAll('rect.bar').data(channels).enter().append('rect')
  .attr('class', 'bar')
  .attr('x', xBar(0))
  .attr('y', d => yBar(d))
  .attr('width', (d, i) => xBar(channelRevenue[i]) - xBar(0))
  .attr('height', yBar.bandwidth())
  .attr('fill', violet);

svg.append('g').attr('transform', 'translate(157,0)')
  .call(d3.axisLeft(yBar).tickValues(channelLabels).tickSize(0).tickPadding(2.5))
  .call(g => g.select('.domain').attr('stroke', '#8a8a9a').attr('stroke-width', 1.2))
  .call(g => g.selectAll('text').attr('font-size', 15.6).attr('fill', '#666').style('font-family', 'Roboto, sans-serif'));

svg.append('rect').attr('x', 156).attr('y', 525).attr('width', 23).attr('height', 11).attr('fill', violet);
label(svg, 183, 535, 'Revenue', 10.5, '#666', 43);

// ---- tables ----
function pager(x, y, color) {
  return (dir) => svg.append('path')
    .attr('d', d3.line()([[x + 4 * dir, y - 7.5], [x - 4 * dir, y], [x + 4 * dir, y + 7.5]].map(p => p)))
    .attr('fill', 'none').attr('stroke', color).attr('stroke-width', 2);
}

function drawTable(cfg) {
  const rowY = d3.scaleBand().domain(cfg.rows).range([cfg.top + 32, cfg.top + 32 + cfg.rows.length * cfg.rowH]);
  card(cfg.x, cfg.top, 341, cfg.height);
  svg.append('rect').attr('x', cfg.x).attr('y', cfg.top).attr('width', 341).attr('height', 32).attr('fill', cfg.headColor);
  label(svg, cfg.x + 10, cfg.top + 22, cfg.heads[0], 17, '#fff', cfg.headWidths[0], 500);
  label(svg, cfg.headX, cfg.top + 22, cfg.heads[1], 17, '#fff', cfg.headWidths[1], 500);
  if (cfg.sorted) caret(cfg.x + 322, cfg.top + 15.5, '#fff');

  if (cfg.heat) {
    const heat = d3.scaleLinear().domain([0, cfg.heat.mid, d3.max(cfg.values)]).range(['#ffffff', cfg.heat.midColor, '#f42a5e']);
    svg.selectAll(null).data(cfg.rows).enter().append('rect')
      .attr('x', cfg.heat.x)
      .attr('y', d => rowY(d))
      .attr('width', cfg.x + 341 - cfg.heat.x)
      .attr('height', (d, i) => i === cfg.rows.length - 1 ? cfg.lastH : rowY.bandwidth() - 1)
      .attr('fill', (d, i) => heat(cfg.values[i]));
  }
  svg.selectAll(null).data(cfg.rows).enter().append('line')
    .attr('x1', cfg.x).attr('x2', cfg.x + 341)
    .attr('y1', d => rowY(d) + rowY.bandwidth() - 0.5)
    .attr('y2', d => rowY(d) + rowY.bandwidth() - 0.5)
    .attr('stroke', cfg.lineColor).attr('stroke-width', cfg.lineWidth)
    .attr('display', (d, i) => (i === cfg.rows.length - 1 && !cfg.lastLine) ? 'none' : null);

  cfg.rows.forEach((r, i) => {
    label(svg, cfg.x + 10, rowY(r) + 23, r, 15.5, cfg.textColor, cfg.rowWidths ? cfg.rowWidths[i] : 0);
    label(svg, cfg.x + 331, rowY(r) + 23, cfg.format ? cfg.format(cfg.values[i]) : usd(cfg.values[i]), 15.5, cfg.textColor, 0, 400, 'end');
  });

  label(svg, cfg.pagerX, cfg.top + cfg.height - 12, cfg.pagerText, 15.5, cfg.pagerColor, cfg.pagerWidth);
  pager(cfg.x + 277, cfg.top + cfg.height - 17, '#bdbdbd')(1);
  pager(cfg.x + 321, cfg.top + cfg.height - 17, cfg.nextColor)(-1);
}

drawTable({
  x: 390, top: 512, height: 143, rowH: 36, rows: sessionRows, values: sessionRevenue,
  heads: ['Sessions to Tran...', 'Revenue'], headWidths: [147, 69], headX: 628, sorted: true,
  headColor: '#f7517f', lineColor: violet, lineWidth: 1.4, lastLine: true, textColor: '#2b2b2b',
  heat: {x: 559, mid: 2184.04, midColor: '#fdb8ca'}, lastH: 39,
  format: v => v === 7678.8 ? '$7,678.8' : usd(v),
  pagerX: 582, pagerText: '1 - 6 / 6', pagerWidth: 50, pagerColor: '#333', nextColor: '#bdbdbd'
});
drawTable({
  x: 19, top: 674, height: 133, rowH: 36, rows: productRows, values: productRevenue,
  heads: ['Product', 'Product Revenue ...'], headWidths: [62, 152], headX: 191, sorted: false,
  headColor: purple, lineColor: '#f0f4f4', lineWidth: 1, textColor: '#666',
  rowWidths: [138, 131],
  pagerX: 175, pagerText: '1 - 100 / 144', pagerWidth: 86, pagerColor: '#777', nextColor: '#555'
});
drawTable({
  x: 390, top: 674, height: 133, rowH: 36, rows: dayRows, values: dayRevenue,
  heads: ['Days to Transact...', 'Revenue'], headWidths: [146, 69], headX: 628, sorted: true,
  headColor: purple, lineColor: '#e4e4e4', lineWidth: 1, textColor: '#2b2b2b',
  heat: {x: 561, mid: 300.91, midColor: '#fdf0f2'}, lastH: 30,
  pagerX: 564, pagerText: '1 - 15 / 15', pagerWidth: 68, pagerColor: '#333', nextColor: '#bdbdbd'
});
</script>
</body>
</html>
